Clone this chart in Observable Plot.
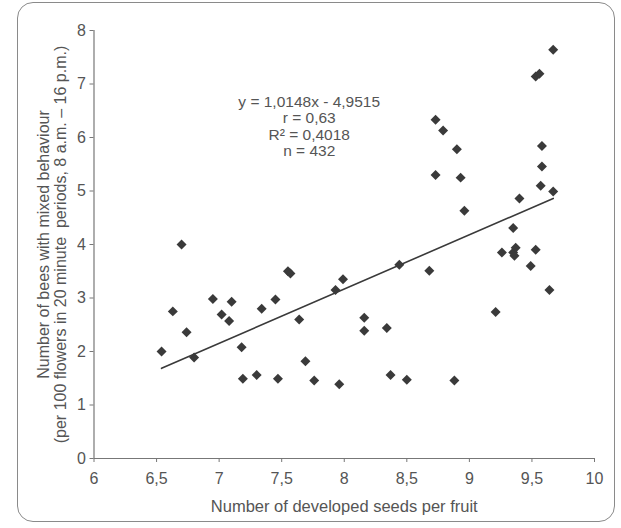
<!DOCTYPE html>
<html>
<head>
<meta charset="utf-8">
<script src="https://cdn.jsdelivr.net/npm/d3@7"></script>
<script src="https://cdn.jsdelivr.net/npm/@observablehq/plot@0.6"></script>
<style>
  html, body { margin: 0; padding: 0; background: #fff; }
  #wrap { position: relative; width: 621px; height: 528px; }
  #frame { position: absolute; left: 17px; top: 2px; width: 598px; height: 520px;
           border: 1.5px solid #8a8a8a; border-radius: 16px; box-sizing: border-box; pointer-events: none; }
</style>
</head>
<body>
<div id="wrap"><div id="frame"></div><div id="chart"></div></div>
<script>
const seeds = [6.70, 6.54, 6.63, 6.74, 6.80, 6.95, 7.02, 7.10, 7.08, 7.18, 7.19, 7.30, 7.34, 7.45, 7.47,
  7.55, 7.57, 7.64, 7.69, 7.76, 7.96, 7.93, 7.99, 8.16, 8.16, 8.34, 8.37, 8.50, 8.44, 8.68, 8.88,
  9.21, 9.26, 9.35, 9.37, 9.36, 9.53, 9.49, 9.64, 9.67, 9.53, 9.56, 8.73, 8.79, 8.90, 8.73, 8.93,
  8.96, 9.58, 9.58, 9.57, 9.67, 9.40, 9.35];
const bees = [4.00, 2.00, 2.75, 2.36, 1.89, 2.98, 2.69, 2.93, 2.57, 2.08, 1.49, 1.56, 2.80, 2.97, 1.49,
  3.50, 3.46, 2.60, 1.82, 1.46, 1.39, 3.15, 3.35, 2.63, 2.39, 2.44, 1.56, 1.47, 3.62, 3.51, 1.46,
  2.74, 3.85, 3.85, 3.94, 3.79, 3.90, 3.60, 3.15, 7.64, 7.14, 7.19, 6.33, 6.13, 5.78, 5.30, 5.25,
  4.63, 5.84, 5.46, 5.10, 4.99, 4.86, 4.31];
const slope = 1.0148, intercept = -4.9515;
const fitRange = [6.54, 9.67];
const xTicks = [6, 6.5, 7, 7.5, 8, 8.5, 9, 9.5, 10];
const yTicks = [0, 1, 2, 3, 4, 5, 6, 7, 8];
const statLines = ["y = 1,0148x - 4,9515", "r = 0,63", "R\u00B2 = 0,4018", "n = 432"];
const xLabel = "Number of developed seeds per fruit";
const yLabel = ["Number of bees with mixed behaviour", "(per 100 flowers in 20 minute  periods, 8 a.m. \u2013 16 p.m.)"];

const pts = seeds.map((s, i) => ({x: s, y: bees[i]}));
const fit = fitRange.map(x => ({x, y: slope * x + intercept}));
const fmt = d => String(d).replace(".", ",");

const chart = Plot.plot({
  width: 621, height: 528,
  marginLeft: 93.5, marginRight: 27, marginTop: 30, marginBottom: 70,
  style: {fontFamily: "'Liberation Sans', Arial, sans-serif", fontSize: "14px", color: "#555", background: "transparent"},
  x: {domain: [6, 10]},
  y: {domain: [0, 8]},
  marks: [
    Plot.ruleY([0], {x1: 6, x2: 10, stroke: "#777", strokeWidth: 1.2}),
    Plot.ruleX([6], {y1: 0, y2: 8, stroke: "#777", strokeWidth: 1.2}),
    Plot.axisX({ticks: xTicks, tickFormat: fmt, tickSize: 4, tickPadding: 10, stroke: "#777", fill: "#555", fontSize: 16, label: null}),
    Plot.axisY({ticks: yTicks, tickFormat: fmt, tickSize: 4, tickPadding: 4, stroke: "#777", fill: "#555", fontSize: 16, label: null}),
    Plot.text([xLabel], {frameAnchor: "bottom", dy: 53, fill: "#555", fontSize: 16.5}),
    Plot.text([yLabel.join("\n")], {frameAnchor: "left", textAnchor: "middle", lineAnchor: "middle", rotate: -90, dx: -42, dy: 0, fill: "#555", fontSize: 16, lineHeight: 1.05}),
    Plot.line(fit, {x: "x", y: "y", stroke: "#3a3a3a", strokeWidth: 1.6}),
    Plot.dot(pts, {x: "x", y: "y", symbol: "diamond2", r: 4.5, fill: "#3a3a3a", stroke: "none"}),
    Plot.text([statLines.join("\n")], {x: 7.72, y: 6.66, lineAnchor: "middle", textAnchor: "middle", fill: "#555", fontSize: 15.5, lineHeight: 1.07, dy: 24})
  ]
});
document.getElementById("chart").appendChild(chart);
</script>
</body>
</html>
